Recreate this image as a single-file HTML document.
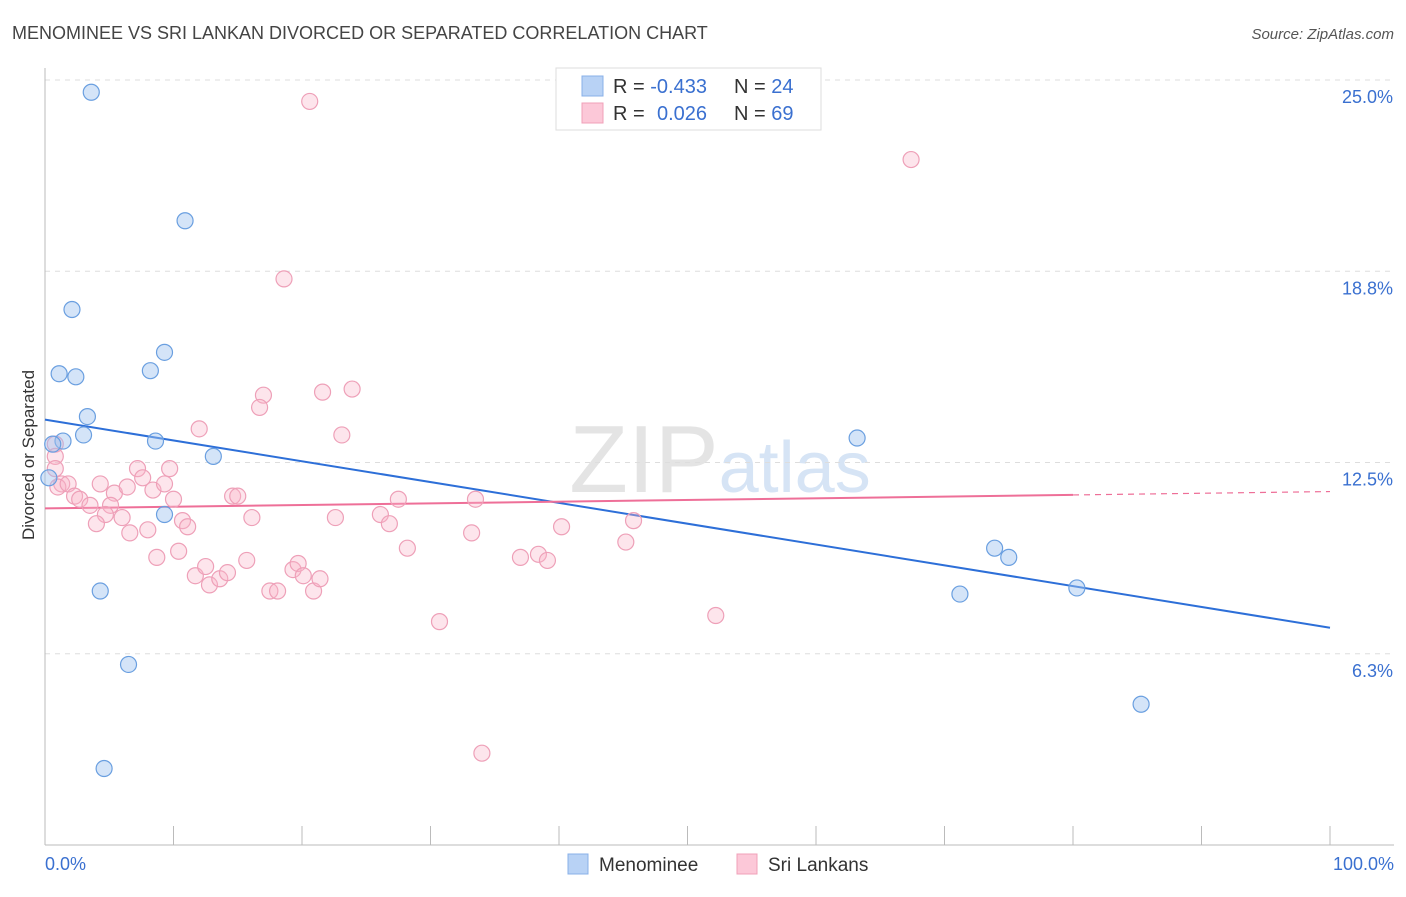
<!DOCTYPE html>
<html><head><meta charset="utf-8"><style>
body{margin:0;background:#fff;font-family:"Liberation Sans",sans-serif}
svg text{font-family:"Liberation Sans",sans-serif}
</style></head><body>
<svg id="chart" width="1406" height="892">
<text x="12" y="39" font-size="18" fill="#444">MENOMINEE VS SRI LANKAN DIVORCED OR SEPARATED CORRELATION CHART</text>
<text x="1394" y="39" font-size="15" fill="#555" font-style="italic" text-anchor="end">Source: ZipAtlas.com</text>
<text x="720" y="492" font-size="96" fill="#e4e4e4" text-anchor="middle" font-family="Liberation Serif">ZIP<tspan fill="#d6e4f5" font-family="Liberation Sans" font-size="72">atlas</tspan></text>
<g id="grid"></g>
<g id="axes"></g>
<g id="lines"></g>
<g id="points"></g>
<text transform="translate(34,455) rotate(-90)" font-size="17" fill="#333" text-anchor="middle">Divorced or Separated</text>
<g>
<rect x="556" y="68" width="265" height="62" fill="#fff" stroke="#ddd"/>
<rect x="582" y="76" width="21" height="20" fill="#b8d2f5" stroke="#88b0e8"/>
<rect x="582" y="103" width="21" height="20" fill="#fcc8d8" stroke="#f0a0b8"/>
<text x="613" y="93" font-size="20" fill="#333">R = <tspan fill="#3a70d0">-0.433</tspan><tspan x="734">N = </tspan><tspan fill="#3a70d0">24</tspan></text>
<text x="613" y="120" font-size="20" fill="#333">R = <tspan x="657" fill="#3a70d0">0.026</tspan><tspan x="734">N = </tspan><tspan fill="#3a70d0">69</tspan></text>
</g>
<g>
<rect x="568" y="854" width="20" height="20" fill="#b8d2f5" stroke="#88b0e8"/>
<text x="599" y="871" font-size="19" fill="#333">Menominee</text>
<rect x="737" y="854" width="20" height="20" fill="#fcc8d8" stroke="#f0a0b8"/>
<text x="768" y="871" font-size="19" fill="#333">Sri Lankans</text>
</g>
</svg>
<script>
const yTicks=[6.25,12.5,18.75,25];
const yTickLabels=["6.3%","12.5%","18.8%","25.0%"];
const xTickLabels=["0.0%","100.0%"];
const blueX=[3.6,10.9,2.1,9.3,1.1,2.4,8.2,3.3,3.0,1.4,8.6,0.6,13.1,0.3,9.3,4.3,6.5,4.6,63.2,73.9,75.0,71.2,80.3,85.3];
const blueY=[24.6,20.4,17.5,16.1,15.4,15.3,15.5,14.0,13.4,13.2,13.2,13.1,12.7,12.0,10.8,8.3,5.9,2.5,13.3,9.7,9.4,8.2,8.4,4.6];
const pinkX=[20.6,67.4,18.6,17.0,16.7,21.6,23.9,12.0,23.1,0.8,0.8,0.8,1.3,1.0,1.8,2.3,2.7,3.5,4.3,5.4,5.1,4.7,4.0,6.4,7.2,7.6,8.4,9.3,9.7,10.0,6.0,6.6,8.0,10.7,11.1,10.4,8.7,14.6,15.0,16.1,11.7,12.5,12.8,13.6,14.2,15.7,17.5,18.1,19.3,19.7,20.1,20.9,21.4,22.6,26.1,26.8,27.5,28.2,33.2,33.5,37.0,38.4,39.1,40.2,45.2,45.8,52.2,30.7,34.0];
const pinkY=[24.3,22.4,18.5,14.7,14.3,14.8,14.9,13.6,13.4,13.1,12.7,12.3,11.8,11.7,11.8,11.4,11.3,11.1,11.8,11.5,11.1,10.8,10.5,11.7,12.3,12.0,11.6,11.8,12.3,11.3,10.7,10.2,10.3,10.6,10.4,9.6,9.4,11.4,11.4,10.7,8.8,9.1,8.5,8.7,8.9,9.3,8.3,8.3,9.0,9.2,8.8,8.3,8.7,10.7,10.8,10.5,11.3,9.7,10.2,11.3,9.4,9.5,9.3,10.4,9.9,10.6,7.5,7.3,3.0];
const blueFit=[13.9,7.1];
const pinkFit=[11.0,11.55];
const NS="http://www.w3.org/2000/svg";
const X=v=>45+v*12.85, Y=v=>845-v*30.6;
function mk(tag,attrs,parent){const e=document.createElementNS(NS,tag);for(const k in attrs)e.setAttribute(k,attrs[k]);document.getElementById(parent).appendChild(e);return e;}
yTicks.forEach((t,i)=>{
 const g=mk('line',{x1:45,x2:1394,y1:Y(t),y2:Y(t),stroke:'#ddd','stroke-dasharray':'5,5'},'grid');
 
 
 const l=mk('text',{x:1393,y:Y(t)+23,'font-size':18,fill:'#3a70d0','text-anchor':'end'},'axes');
 l.textContent=yTickLabels[i];
 
 
});
const ax=mk('line',{x1:45,x2:1394,y1:845,y2:845,stroke:'#bbb'},'axes');


const ay=mk('line',{x1:45,x2:45,y1:68,y2:845,stroke:'#bbb'},'axes');


for(let i=0;i<=10;i++){
 const t=mk('line',{x1:X(i*10),x2:X(i*10),y1:826,y2:845,stroke:'#bbb'},'axes');
 
 
}
[[0,'start',45],[100,'end',1394]].forEach((d,i)=>{
 const l=mk('text',{x:d[2],y:870,'font-size':18,fill:'#3a70d0','text-anchor':d[1]},'axes');
 l.textContent=xTickLabels[i];
 
 
});
function pts(xs,ys,fill,stroke,name){
 xs.forEach((x,i)=>{
  const c=mk('circle',{cx:X(x),cy:Y(ys[i]),r:8,fill:fill,stroke:stroke,'stroke-width':1.2},'points');
  
  
 });
}
pts(pinkX,pinkY,'rgba(248,180,200,0.35)','#eea0b8','sri-lankan-point');
pts(blueX,blueY,'rgba(160,196,240,0.45)','#6a9fe0','menominee-point');
const bl=mk('line',{x1:X(0),y1:Y(blueFit[0]),x2:X(100),y2:Y(blueFit[1]),stroke:'#2d6fd8','stroke-width':2},'lines');


const pe=(v)=>pinkFit[0]+(pinkFit[1]-pinkFit[0])*v/100;
const pl=mk('line',{x1:X(0),y1:Y(pe(0)),x2:X(80),y2:Y(pe(80)),stroke:'#ee6f98','stroke-width':2},'lines');


const pd=mk('line',{x1:X(80),y1:Y(pe(80)),x2:X(100),y2:Y(pe(100)),stroke:'#ee6f98','stroke-width':1.2,'stroke-dasharray':'6,5'},'lines');


</script>
</body></html>
